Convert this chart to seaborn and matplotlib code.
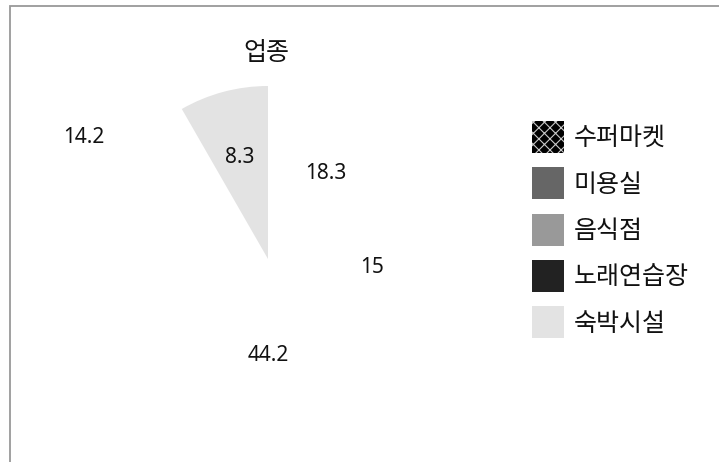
import matplotlib
matplotlib.use("Agg")
import matplotlib.pyplot as plt
from matplotlib.patches import Patch, Rectangle
import seaborn as sns

sns.set_theme(style="white")
plt.rcParams["font.family"] = ["Noto Sans", "Noto Sans CJK KR", "DejaVu Sans"]
plt.rcParams["hatch.linewidth"] = 0.8

# 업종별 비율 (%)
categories = ["수퍼마켓", "미용실", "음식점", "노래연습장", "숙박시설"]
values = [18.3, 15.0, 44.2, 14.2, 8.3]
value_labels = ["18.3", "15", "44.2", "14.2", "8.3"]
title = "업종"

# 범례 색상과 표시되는 조각
legend_colors = ["#000000", "#666666", "#999999", "#222222", "#e3e3e3"]
legend_hatches = ["xxx", None, None, None, None]
shown = [False, False, False, False, True]

# 값 레이블 위치 (파이 반지름 단위)
label_pos = [(0.335, 0.497), (0.601, -0.052), (0.0, -0.555),
             (-1.064, 0.705), (-0.162, 0.588)]

W, H = 719, 462
fig = plt.figure(figsize=(W / 100, H / 100), dpi=100)

cx, cy, r = 268, 259, 173
ax = fig.add_axes([(cx - r) / W, (H - cy - r) / H, 2 * r / W, 2 * r / H])

face = [c if s else (1, 1, 1, 0) for c, s in zip(legend_colors, shown)]
wedges, _ = ax.pie(values, colors=face, startangle=90, counterclock=False,
                   radius=1.0, wedgeprops=dict(linewidth=0))
ax.set_xlim(-1, 1)
ax.set_ylim(-1, 1)
ax.set_aspect("equal")
ax.axis("off")

for txt, (x, y) in zip(value_labels, label_pos):
    ax.text(x, y, txt, ha="center", va="center", fontsize=15,
            color="#111111", fontweight="light", clip_on=False)

fig.text(266 / W, 1 - 53 / H, title, ha="center", va="center",
         fontsize=18, color="#111111", fontweight="light")

fs = 18
handles = [Patch(facecolor=c, edgecolor=("#c8c8c8" if h else c), hatch=h,
                 linewidth=0)
           for c, h in zip(legend_colors, legend_hatches)]
leg = fig.legend(handles, categories, loc="upper left",
                 bbox_to_anchor=(532 / W, 1 - 121 / H),
                 frameon=False, handlelength=1.28,
                 handleheight=1.59, handletextpad=0.4, labelspacing=0.575,
                 borderaxespad=0, borderpad=0.0,
                 prop=dict(size=fs, weight="light"))
for t in leg.get_texts():
    t.set_color("#111111")

# 차트 영역 테두리
fig.add_artist(Rectangle((9.5 / W, -0.05), 1.2, 1 - 5.5 / H + 0.05,
                         transform=fig.transFigure, fill=False,
                         edgecolor="#999999", linewidth=1.3))

fig.savefig("out.png", dpi=100)
